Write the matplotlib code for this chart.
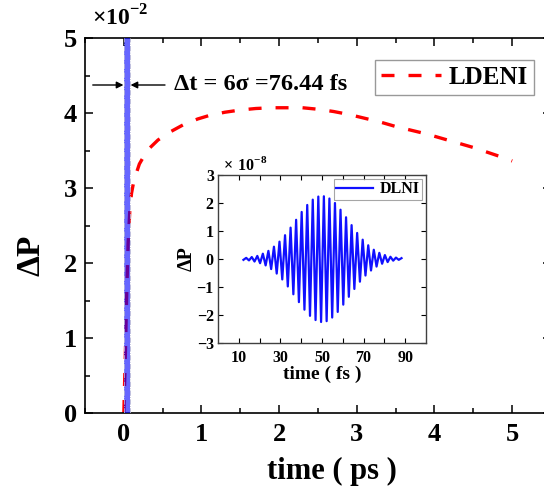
import numpy as np
import matplotlib
matplotlib.use("Agg")
import matplotlib.pyplot as plt
from matplotlib.ticker import MultipleLocator, FixedLocator

plt.rcParams['font.family'] = ['Liberation Serif', 'DejaVu Serif']
plt.rcParams['font.weight'] = 'bold'
plt.rcParams['mathtext.fontset'] = 'custom'
plt.rcParams['mathtext.rm'] = 'Liberation Serif:bold'
plt.rcParams['mathtext.bf'] = 'Liberation Serif:bold'
plt.rcParams['axes.unicode_minus'] = True

# LDENI response over the long time window (ps, units of 1e-2)
ldeni_t = [0.0, 0.02, 0.035, 0.055, 0.077, 0.099, 0.13, 0.2, 0.3, 0.44, 0.6,
           0.76, 0.95, 1.11, 1.3, 1.5, 1.7, 1.9, 2.1, 2.3, 2.5, 2.7, 2.9, 3.1,
           3.3, 3.5, 3.7, 3.9, 4.1, 4.3, 4.5, 4.7, 4.9, 5.0]
ldeni_p = [0.0, 0.8, 1.5, 2.26, 2.7, 2.93, 3.1, 3.32, 3.5, 3.64, 3.75,
           3.84, 3.92, 3.97, 4.01, 4.04, 4.06, 4.07, 4.07, 4.07, 4.05, 4.02,
           3.98, 3.93, 3.88, 3.82, 3.77, 3.72, 3.66, 3.60, 3.54, 3.47, 3.40, 3.36]

# pulse window: dt = 6 sigma = 76.44 fs
pulse_start = 0.0
pulse_width = 0.07644

# DLNI oscillation extrema during the pulse (fs, units of 1e-8)
dlni_t = [12.23, 13.56, 14.90, 16.23, 17.56, 18.90, 20.23, 21.56, 22.90, 24.23,
          25.56, 26.90, 28.23, 29.56, 30.90, 32.23, 33.56, 34.90, 36.23, 37.56,
          38.90, 40.23, 41.56, 42.90, 44.23, 45.56, 46.90, 48.23, 49.56, 50.90,
          52.23, 53.56, 54.90, 56.23, 57.56, 58.90, 60.23, 61.56, 62.90, 64.23,
          65.56, 66.90, 68.23, 69.56, 70.90, 72.23, 73.56, 74.90, 76.23, 77.56,
          78.90, 80.23, 81.56, 82.90, 84.23, 85.56, 86.90, 88.23]
dlni_p = [-0.03, 0.04, -0.05, 0.07, -0.09, 0.11, -0.15, 0.19, -0.23, 0.29,
          -0.36, 0.44, -0.52, 0.62, -0.73, 0.85, -0.98, 1.12, -1.26, 1.40,
          -1.54, 1.68, -1.81, 1.93, -2.03, 2.12, -2.18, 2.23, -2.25, 2.24,
          -2.22, 2.16, -2.09, 2.00, -1.89, 1.76, -1.63, 1.49, -1.35, 1.21,
          -1.07, 0.93, -0.81, 0.69, -0.59, 0.49, -0.41, 0.33, -0.27, 0.22,
          -0.17, 0.14, -0.11, 0.08, -0.06, 0.05, -0.03, 0.03]

main_xticks = [0, 1, 2, 3, 4, 5]
main_yticks = [0, 1, 2, 3, 4, 5]
inset_xticks = [10, 30, 50, 70, 90]
inset_yticks = [-3, -2, -1, 0, 1, 2, 3]

W, H = 544, 491
fig = plt.figure(figsize=(W / 100, H / 100), dpi=100)

# main axes (right edge runs just past the canvas)
ax = fig.add_axes([85 / W, 1 - 413 / H, 466 / W, 375 / H])
ax.set_xlim(-0.5, 5.5)
ax.set_ylim(0, 5)

ax.plot(ldeni_t, ldeni_p, color='red', lw=2.4, dashes=(3.9, 4.2),
        label='LDENI', zorder=2)
ax.axvspan(pulse_start, pulse_start + pulse_width, color='#0000ff',
           alpha=0.6, lw=0, zorder=3)
for xe in (pulse_start, pulse_start + pulse_width):
    ax.axvline(xe, color='#b4b4d8', lw=0.6, ls='-.', zorder=3)

ax.set_xticks(main_xticks)
ax.set_yticks(main_yticks)
ax.xaxis.set_minor_locator(MultipleLocator(0.5))
ax.yaxis.set_minor_locator(MultipleLocator(0.5))
ax.tick_params(which='both', direction='in', top=True, right=True,
               labelsize=19, width=1.1)
ax.tick_params(which='major', length=6)
ax.tick_params(which='minor', length=3.5)
ax.tick_params(axis='x', pad=7)
ax.tick_params(axis='y', pad=6)
for s in ax.spines.values():
    s.set_linewidth(1.2)
for lab in ax.get_xticklabels() + ax.get_yticklabels():
    lab.set_fontweight('bold')

ax.set_xlabel('time ( ps )', fontsize=22, fontweight='bold', va='top')
ax.xaxis.set_label_coords((332 - 85) / 466, (413 - 457) / 375)
ax.set_ylabel('ΔP', fontsize=24, fontweight='bold')
ax.yaxis.set_label_coords((46 - 85) / 466, (413 - 255) / 375)

fig.text(92 / W, 1 - 26 / H, r'$\times 10^{-2}$', fontsize=17,
         ha='left', va='baseline')

# pulse width annotation
ya = (413 - 85) / 75
ax.annotate('', xy=(pulse_start - 0.005, ya), xytext=(-0.4, ya),
            arrowprops=dict(arrowstyle='-|>', color='black', lw=1.0,
                            mutation_scale=10, shrinkA=0, shrinkB=0))
ax.annotate('', xy=(pulse_start + pulse_width + 0.01, ya), xytext=(0.53, ya),
            arrowprops=dict(arrowstyle='-|>', color='black', lw=1.0,
                            mutation_scale=10, shrinkA=0, shrinkB=0))
ax.text(0.64, ya, 'Δt = 6σ =76.44 fs', fontsize=17.5, fontweight='bold',
        ha='left', va='center')

leg = ax.legend(loc='upper left', bbox_to_anchor=(375 / W, 1 - 60 / H),
                bbox_transform=fig.transFigure, borderaxespad=0,
                fontsize=18, frameon=True, fancybox=False, edgecolor='#808080',
                handlelength=2.4, handletextpad=0.3, borderpad=0.25)
leg.get_frame().set_linewidth(1.0)
for t in leg.get_texts():
    t.set_fontweight('bold')

# inset: DLNI during the pulse
ins = fig.add_axes([218 / W, 1 - 343 / H, 208 / W, 168 / H])
ins.plot(dlni_t, dlni_p, color='#1010ff', lw=1.6, label='DLNI')
ins.set_xlim(0, 100)
ins.set_ylim(-3, 3)
ins.set_xticks(inset_xticks)
ins.xaxis.set_minor_locator(FixedLocator([20, 40, 60, 80]))
ins.set_yticks(inset_yticks)
ins.tick_params(which='both', direction='in', top=True, right=True,
                labelsize=11.5, width=0.8, length=3.5)
ins.tick_params(axis='x', pad=5)
ins.tick_params(axis='y', pad=3)
for s in ins.spines.values():
    s.set_linewidth(1.0)
    s.set_color('#404040')
for lab in ins.get_xticklabels() + ins.get_yticklabels():
    lab.set_fontweight('bold')
ins.set_xlabel('time ( fs )', fontsize=14, fontweight='bold', labelpad=0)
ins.set_ylabel('ΔP', fontsize=14.5, fontweight='bold', labelpad=0)
fig.text(223 / W, 1 - 170 / H, r'$\times\ 10^{-8}$', fontsize=11.5,
         ha='left', va='baseline')
ileg = ins.legend(loc='upper right', fontsize=11.5, frameon=True,
                  fancybox=False, edgecolor='#909090', handlelength=2.3,
                  handletextpad=0.4, borderpad=0.15, borderaxespad=0.25)
ileg.get_frame().set_linewidth(0.8)
for t in ileg.get_texts():
    t.set_fontweight('bold')

fig.savefig('out.png', dpi=100)
